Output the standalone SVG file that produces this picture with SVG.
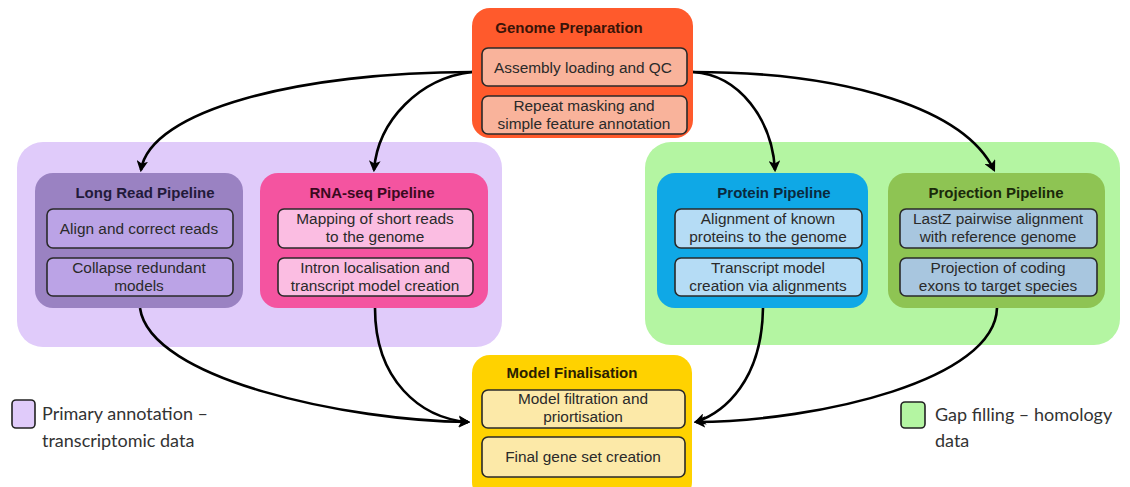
<svg xmlns="http://www.w3.org/2000/svg" width="1130" height="487" viewBox="0 0 1130 487">
<defs>
<style>
.title{font-family:"Liberation Sans",Arial,sans-serif;font-size:15px;font-weight:bold;text-anchor:middle}
.sub{font-family:"Liberation Sans",Arial,sans-serif;font-size:15.4px;fill:#2a2a2a;text-anchor:middle}
.sb{stroke:#2a2a2a;stroke-width:1.6}
.leg{font-family:Lato,"Open Sans",sans-serif;font-size:18px;fill:#333}
.conn{fill:none;stroke:#000;stroke-width:2.6;marker-end:url(#arr)}
</style>
<marker id="arr" viewBox="0 0 10 10" refX="8" refY="5" markerWidth="4.5" markerHeight="4.5" orient="auto-start-reverse" markerUnits="strokeWidth">
<path d="M0,0 L10,5 L0,10 L2.5,5 z" fill="#000"/>
</marker>
</defs>
<rect width="1130" height="487" fill="#fff"/>

<g id="group-primary">
<rect x="17" y="142" width="485" height="205" rx="26" fill="#E0CBFA"/>
</g>
<g id="group-gapfill">
<rect x="645" y="142" width="475" height="203" rx="26" fill="#B4F5A2"/>
</g>

<g id="connectors">
<path class="conn" d="M472,72 C300,72 150,110 141,170"/>
<path class="conn" d="M472,72 C420,78 378,120 374,170"/>
<path class="conn" d="M693,72 C740,75 772,120 775,170"/>
<path class="conn" d="M693,72 C850,72 965,110 994,170"/>
<path class="conn" d="M140,308 C150,380 350,421 468,422"/>
<path class="conn" d="M375,308 C375,380 420,418 468,422"/>
<path class="conn" d="M763,308 C762,380 725,412 696,422"/>
<path class="conn" d="M997,308 C995,380 820,421 696,422"/>
</g>

<g id="genome-preparation">
<rect x="472" y="8" width="221" height="130" rx="18" fill="#FF5A2C"/>
<text class="title" x="569" y="33" fill="#3a1408">Genome Preparation</text>
<rect class="sb" x="482" y="48" width="205" height="38" rx="6" fill="#F9B39B"/>
<text class="sub" x="583" y="73">Assembly loading and QC</text>
<rect class="sb" x="482" y="96" width="205" height="38" rx="6" fill="#F9B39B"/>
<text class="sub" x="584" y="111">Repeat masking and</text>
<text class="sub" x="584" y="129">simple feature annotation</text>
</g>

<g id="long-read-pipeline">
<rect x="35" y="173" width="208" height="135" rx="18" fill="#9A82C2"/>
<text class="title" x="145" y="198" fill="#221a3a">Long Read Pipeline</text>
<rect class="sb" x="47" y="209" width="186" height="39" rx="6" fill="#BBA3E6"/>
<text class="sub" x="139" y="234">Align and correct reads</text>
<rect class="sb" x="47" y="258" width="186" height="38" rx="6" fill="#BBA3E6"/>
<text class="sub" x="139" y="273">Collapse redundant</text>
<text class="sub" x="139" y="291">models</text>
</g>

<g id="rna-seq-pipeline">
<rect x="260" y="173" width="228" height="135" rx="18" fill="#F454A0"/>
<text class="title" x="372" y="198" fill="#3a0a1e">RNA-seq Pipeline</text>
<rect class="sb" x="278" y="209" width="195" height="39" rx="6" fill="#FBBDE2"/>
<text class="sub" x="375" y="224">Mapping of short reads</text>
<text class="sub" x="375" y="242">to the genome</text>
<rect class="sb" x="278" y="258" width="195" height="38" rx="6" fill="#FBBDE2"/>
<text class="sub" x="375" y="273">Intron localisation and</text>
<text class="sub" x="375" y="291">transcript model creation</text>
</g>

<g id="protein-pipeline">
<rect x="657" y="173" width="211" height="135" rx="18" fill="#0FA8E6"/>
<text class="title" x="774" y="198" fill="#0a2a3e">Protein Pipeline</text>
<rect class="sb" x="675" y="209" width="187" height="39" rx="6" fill="#B5DCF5"/>
<text class="sub" x="768" y="224">Alignment of known</text>
<text class="sub" x="768" y="242">proteins to the genome</text>
<rect class="sb" x="675" y="258" width="187" height="38" rx="6" fill="#B5DCF5"/>
<text class="sub" x="768" y="273">Transcript model</text>
<text class="sub" x="768" y="291">creation via alignments</text>
</g>

<g id="projection-pipeline">
<rect x="888" y="173" width="217" height="135" rx="18" fill="#8EC453"/>
<text class="title" x="996" y="198" fill="#1a2a0a">Projection Pipeline</text>
<rect class="sb" x="900" y="209" width="197" height="39" rx="6" fill="#A8C6DF"/>
<text class="sub" x="998" y="224">LastZ pairwise alignment</text>
<text class="sub" x="998" y="242">with reference genome</text>
<rect class="sb" x="900" y="258" width="197" height="38" rx="6" fill="#A8C6DF"/>
<text class="sub" x="998" y="273">Projection of coding</text>
<text class="sub" x="998" y="291">exons to target species</text>
</g>

<g id="model-finalisation">
<rect x="472" y="355" width="220" height="145" rx="18" fill="#FFD200"/>
<text class="title" x="572" y="378" fill="#2a2000">Model Finalisation</text>
<rect class="sb" x="482" y="390" width="203" height="38" rx="6" fill="#FCE9A8"/>
<text class="sub" x="583" y="404">Model filtration and</text>
<text class="sub" x="583" y="422">priortisation</text>
<rect class="sb" x="482" y="437" width="203" height="40" rx="6" fill="#FCE9A8"/>
<text class="sub" x="583" y="462">Final gene set creation</text>
</g>

<g id="legend-primary">
<rect x="12" y="400" width="23" height="28" rx="4" fill="#E0CBFA" stroke="#222" stroke-width="1.6"/>
<text class="leg" x="42" y="420">Primary annotation –</text>
<text class="leg" x="42" y="447">transcriptomic data</text>
</g>

<g id="legend-gapfill">
<rect x="901" y="402" width="24" height="26" rx="4" fill="#B4F5A2" stroke="#222" stroke-width="1.6"/>
<text class="leg" x="935" y="421">Gap filling – homology</text>
<text class="leg" x="935" y="447">data</text>
</g>
</svg>
